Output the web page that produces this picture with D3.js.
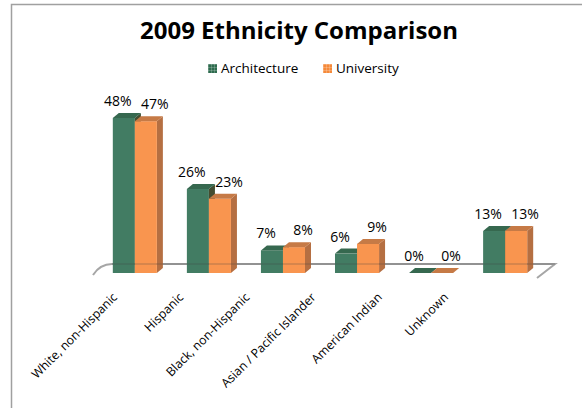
<!DOCTYPE html>
<html>
<head>
<meta charset="utf-8">
<script src="https://cdn.jsdelivr.net/npm/d3@7"></script>
<style>
	body { margin: 0; background: white; }
	svg { display: block; }
</style>
</head>
<body>
<div id="chart"></div>
<script>
const categories = ['White, non-Hispanic', 'Hispanic', 'Black, non-Hispanic', 'Asian / Pacific Islander', 'American Indian', 'Unknown'];
const seriesNames = ['Architecture', 'University'];
const architecture = [48, 26, 7, 6, 0, 13];
const university = [47, 23, 8, 9, 0, 13];

let svgWidth = 582;
let svgHeight = 408;
let font = "'Open Sans', 'DejaVu Sans', sans-serif";

let svg = d3.select('#chart').append('svg')
	.attr('width', svgWidth)
	.attr('height', svgHeight);

// frame (only top and left edges visible)
svg.append('path')
	.attr('d', `M11.5,${svgHeight} L11.5,4.5 L${svgWidth},4.5`)
	.attr('fill', 'none')
	.attr('stroke', '#a0a0a0')
	.attr('stroke-width', 1.5);

svg.append('text')
	.attr('x', 299)
	.attr('y', 39)
	.attr('text-anchor', 'middle')
	.attr('font-family', font)
	.attr('font-size', '24px')
	.attr('font-weight', 700)
	.attr('fill', 'black')
	.text('2009 Ethnicity Comparison');

let colors = {
	'Architecture': { front: '#427c63', top: '#36684f', side: '#2d5a45', key: '#2e6b4e' },
	'University': { front: '#f9954f', top: '#c67a46', side: '#b56f42', key: '#f58a3a' }
};

// legend
let defs = svg.append('defs');
seriesNames.forEach((s, i) => {
	let p = defs.append('pattern')
		.attr('id', 'pat' + i)
		.attr('width', 3)
		.attr('height', 3)
		.attr('patternUnits', 'userSpaceOnUse');
	p.append('rect').attr('width', 3).attr('height', 3).attr('fill', colors[s].key);
	p.append('path').attr('d', 'M0,0.5H3M0.5,0V3').attr('stroke', 'white').attr('stroke-opacity', 0.35).attr('stroke-width', 0.6);
});

let legendX = [208, 323];
let legend = svg.selectAll('.legend')
	.data(seriesNames)
	.enter()
	.append('g')
	.attr('class', 'legend')
	.attr('transform', (d, i) => `translate(${legendX[i]}, 64)`);

legend.append('rect')
	.attr('width', 9)
	.attr('height', 9)
	.attr('fill', (d, i) => `url(#pat${i})`);

legend.append('text')
	.attr('x', 13)
	.attr('y', 9)
	.attr('font-family', font)
	.attr('font-size', '13.5px')
	.attr('fill', 'black')
	.text(d => d);

// plot
let baseY = 273;
let depthX = 6;
let depthY = 5;

let x = d3.scaleBand()
	.domain(categories)
	.range([98, 542])
	.paddingInner(0.405)
	.paddingOuter(0.2);

let xs = d3.scaleBand()
	.domain(seriesNames)
	.range([0, x.bandwidth()]);

let y = d3.scaleLinear()
	.domain([0, 50])
	.range([baseY, baseY - 161.5]);

// floor back edge with the little end stubs
let floorY = baseY - 9;
let x0 = x.range()[0];
let x1 = x.range()[1];
svg.append('path')
	.classed('floor', true)
	.attr('d', `M${x0 - 5},${baseY + 2} Q${x0 + 2},${floorY} ${x0 + 14},${floorY} L${x1 + 13},${floorY} L${x1 - 5},${baseY + 5}`)
	.attr('fill', 'none')
	.attr('stroke', '#a6a6a6')
	.attr('stroke-width', 2);

let data = [];
categories.forEach((c, i) => {
	data.push({ cat: c, series: 'Architecture', value: architecture[i] });
	data.push({ cat: c, series: 'University', value: university[i] });
});

let body = svg.append('g').classed('body', true);

let bars = body.selectAll('g.bar')
	.data(data)
	.enter()
	.append('g')
	.attr('class', 'bar');

bars.each(function(d) {
	let g = d3.select(this);
	let bx = x(d.cat) + xs(d.series);
	let bw = xs.bandwidth();
	let top = y(d.value);
	let c = colors[d.series];
	// side
	g.append('path')
		.attr('d', `M${bx + bw},${baseY} L${bx + bw + depthX},${baseY - depthY} L${bx + bw + depthX},${top - depthY} L${bx + bw},${top} Z`)
		.attr('fill', c.side);
	// front
	if (d.value > 0) {
		g.append('rect')
			.attr('x', bx)
			.attr('y', top)
			.attr('width', bw)
			.attr('height', baseY - top)
			.attr('fill', c.front);
	}
	// top
	g.append('path')
		.attr('d', `M${bx},${top} L${bx + depthX},${top - depthY} L${bx + bw + depthX},${top - depthY} L${bx + bw},${top} Z`)
		.attr('fill', c.top);
});

// green side seen through the translucent orange bar
bars.filter(d => d.series === 'Architecture' && d.value > 0)
	.append('path')
	.attr('d', d => {
		let bx = x(d.cat) + xs(d.series) + xs.bandwidth();
		let top = y(d.value);
		return `M${bx},${baseY} L${bx + depthX},${baseY - depthY} L${bx + depthX},${top - depthY + 1} L${bx},${top} Z`;
	})
	.attr('fill', '#7a3000')
	.attr('fill-opacity', 0.3);

// floor line showing through the bars
body.append('line')
	.attr('x1', x0 + 14)
	.attr('x2', x1 + 13)
	.attr('y1', floorY)
	.attr('y2', floorY)
	.attr('stroke', '#404040')
	.attr('stroke-opacity', 0.25)
	.attr('stroke-width', 1.5);

// value labels
let labelShift = { 'Architecture': -6, 'University': 9 };
body.selectAll('text.value')
	.data(data)
	.enter()
	.append('text')
	.attr('class', 'value')
	.attr('x', d => x(d.cat) + xs(d.series) + xs.bandwidth() / 2 + labelShift[d.series])
	.attr('y', d => y(d.value) - 12)
	.attr('text-anchor', 'middle')
	.attr('font-family', font)
	.attr('font-size', '14px')
	.attr('fill', 'black')
	.text(d => d.value + '%');

// category labels, rotated
let labelX = d3.scalePoint()
	.domain(categories)
	.range([118, 449]);

svg.selectAll('text.cat')
	.data(categories)
	.enter()
	.append('text')
	.attr('class', 'cat')
	.attr('transform', d => `translate(${labelX(d)}, 298) rotate(-45)`)
	.attr('text-anchor', 'end')
	.attr('font-family', font)
	.attr('font-size', '12.3px')
	.attr('fill', 'black')
	.text(d => d);
</script>
</body>
</html>
